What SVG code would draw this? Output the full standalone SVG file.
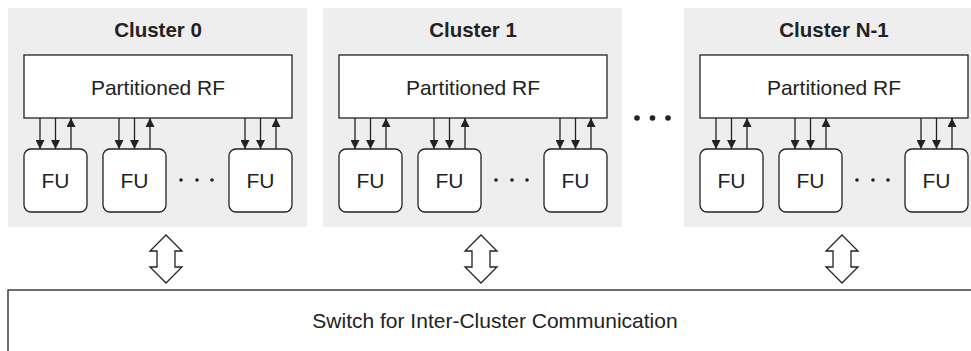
<svg xmlns="http://www.w3.org/2000/svg" width="971" height="351" viewBox="0 0 971 351">
<style>
.panel{fill:#eeeeee;stroke:none}
.box{fill:#ffffff;stroke:#222;stroke-width:1.3}
.title{font-family:"Liberation Sans",Arial,sans-serif;font-weight:bold;font-size:20.5px;fill:#222;text-anchor:middle}
.lbl{font-family:"Liberation Sans",Arial,sans-serif;font-size:21px;fill:#222;text-anchor:middle}
.ln{stroke:#222;stroke-width:1.3;fill:none}
.dot{fill:#222}
.dbl{fill:#fff;stroke:#222;stroke-width:1.3;stroke-linejoin:miter}
</style>
<defs>
<marker id="ah" viewBox="0 0 10 10" refX="10" refY="5" markerWidth="10" markerHeight="9" markerUnits="userSpaceOnUse" orient="auto">
<path d="M0,0 L10,5 L0,10 z" fill="#222"/>
</marker>
<g id="cl">
<rect class="panel" x="0" y="0" width="299" height="219"/>
<rect class="box" x="16" y="47" width="268" height="63"/>
<text class="lbl" x="150" y="86.5">Partitioned RF</text>
<rect class="box" x="16" y="141" width="63" height="63" rx="7"/>
<rect class="box" x="95" y="141" width="63" height="63" rx="7"/>
<rect class="box" x="221" y="141" width="63" height="63" rx="7"/>
<text class="lbl" x="47.5" y="180">FU</text>
<text class="lbl" x="126.5" y="180">FU</text>
<text class="lbl" x="252.5" y="180">FU</text>
<circle class="dot" cx="173" cy="172" r="1.8"/>
<circle class="dot" cx="189" cy="172" r="1.8"/>
<circle class="dot" cx="204" cy="172" r="1.8"/>
<g class="ln">
<line x1="32" y1="110" x2="32" y2="141" marker-end="url(#ah)"/>
<line x1="47.5" y1="110" x2="47.5" y2="141" marker-end="url(#ah)"/>
<line x1="63" y1="141" x2="63" y2="110" marker-end="url(#ah)"/>
<line x1="111" y1="110" x2="111" y2="141" marker-end="url(#ah)"/>
<line x1="126.5" y1="110" x2="126.5" y2="141" marker-end="url(#ah)"/>
<line x1="142" y1="141" x2="142" y2="110" marker-end="url(#ah)"/>
<line x1="237" y1="110" x2="237" y2="141" marker-end="url(#ah)"/>
<line x1="252.5" y1="110" x2="252.5" y2="141" marker-end="url(#ah)"/>
<line x1="268" y1="141" x2="268" y2="110" marker-end="url(#ah)"/>
</g>
</g>
<path id="dblarrow" class="dbl" d="M0,0 L16,16 L9,16 L9,32 L16,32 L0,48 L-16,32 L-9,32 L-9,16 L-16,16 Z"/>
</defs>
<g id="cluster0">
<use href="#cl" x="8" y="8"/>
<text class="title" x="158" y="37">Cluster 0</text>
</g>
<g id="cluster1">
<use href="#cl" x="323" y="8"/>
<text class="title" x="473" y="37">Cluster 1</text>
</g>
<g id="clusterN1">
<use href="#cl" x="684" y="8"/>
<text class="title" x="834" y="37">Cluster N-1</text>
</g>
<g id="ellipsis">
<circle class="dot" cx="637" cy="118" r="2.8"/>
<circle class="dot" cx="652.5" cy="118" r="2.8"/>
<circle class="dot" cx="668" cy="118" r="2.8"/>
</g>
<g id="switch">
<rect class="box" x="8" y="290" width="980" height="80"/>
<text class="lbl" x="495" y="328">Switch for Inter-Cluster Communication</text>
</g>
<g id="connectors">
<use href="#dblarrow" x="166" y="235"/>
<use href="#dblarrow" x="481" y="235"/>
<use href="#dblarrow" x="842" y="235"/>
</g>
</svg>
